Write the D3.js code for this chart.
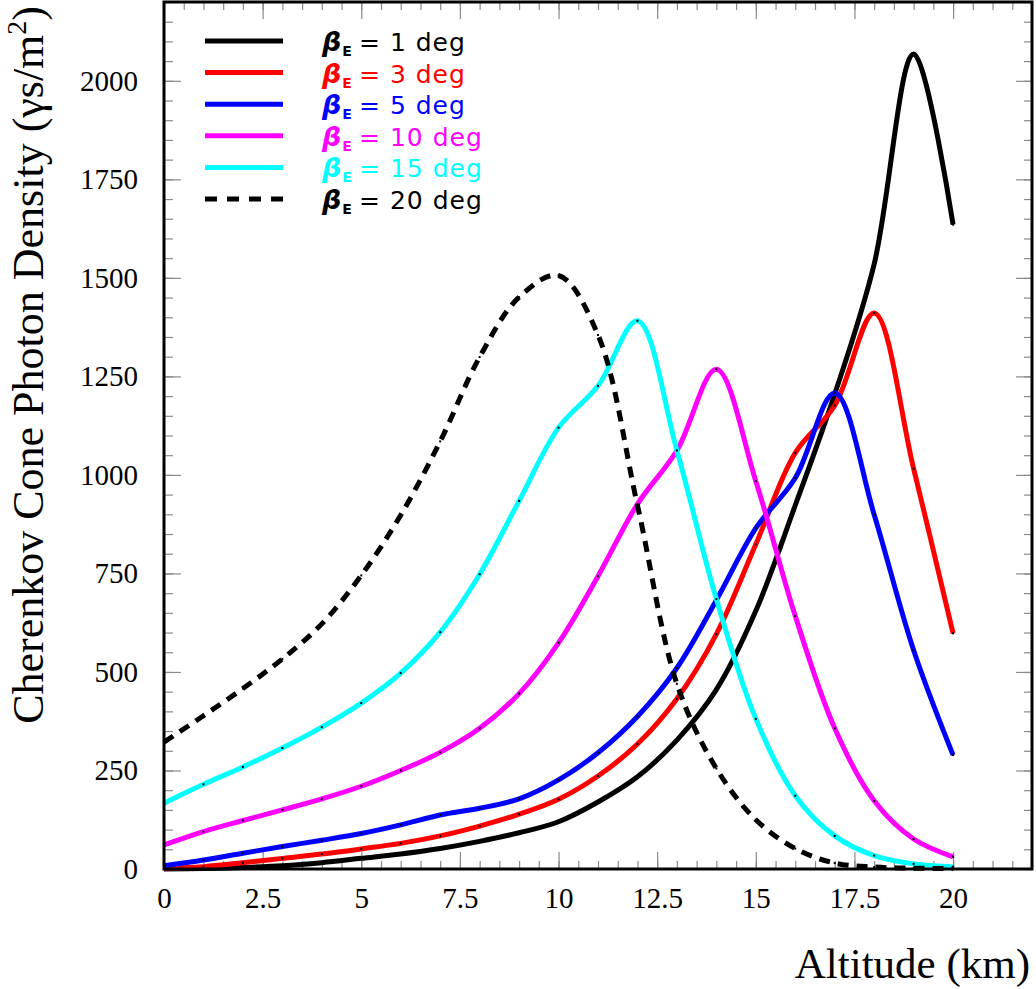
<!DOCTYPE html>
<html>
<head>
<meta charset="utf-8">
<script src="https://cdn.jsdelivr.net/npm/d3@7"></script>
<style>
    body { margin: 0; background: #fff; }
    .tick text { font-family: "Liberation Serif", "Times New Roman", serif; font-size: 29px; fill: #000; }
    .tick line { stroke: #8a8a8a; stroke-width: 1.2; }
    .axisTitle { font-family: "Liberation Serif", "Times New Roman", serif; fill: #000; }
    .legendText { font-family: "DejaVu Sans", sans-serif; font-size: 25px; letter-spacing: 1px; }
</style>
</head>
<body>
<svg id="chart" width="1036" height="989"></svg>
<script>
// altitude in km, one point per km
const altitude = [0, 1, 2, 3, 4, 5, 6, 7, 8, 9, 10, 11, 12, 13, 14, 15, 16, 17, 18, 19, 20];

// photon density for each beta_E
const beta1  = [0, 1, 4, 8, 16, 27, 38, 52, 70, 92, 120, 170, 234, 327, 455, 655, 923, 1205, 1535, 2068, 1635];
const beta3  = [2, 6, 16, 27, 38, 51, 65, 84, 109, 139, 177, 236, 317, 432, 596, 824, 1056, 1176, 1411, 1016, 598];
const beta5  = [8, 23, 40, 57, 73, 90, 112, 137, 154, 178, 226, 295, 387, 510, 682, 865, 992, 1208, 899, 555, 289];
const beta10 = [61, 95, 123, 150, 178, 210, 250, 296, 357, 445, 574, 743, 926, 1062, 1268, 984, 642, 357, 173, 76, 31];
const beta15 = [167, 215, 259, 307, 360, 421, 497, 601, 748, 934, 1120, 1226, 1391, 1062, 685, 381, 186, 84, 34, 13, 6];
const beta20 = [322, 389, 458, 533, 622, 745, 898, 1085, 1299, 1451, 1506, 1355, 923, 470, 255, 125, 52, 15, 5, 2, 1];

const legendLabels = ['1 deg', '3 deg', '5 deg', '10 deg', '15 deg', '20 deg'];
const xTickLabels = [0, 2.5, 5, 7.5, 10, 12.5, 15, 17.5, 20];
const yTickLabels = [0, 250, 500, 750, 1000, 1250, 1500, 1750, 2000];

const svg = d3.select('#chart');

const render = () => {
    const margin = {top: 2, right: 4, bottom: 120, left: 164};
    const width = +svg.attr('width');
    const height = +svg.attr('height');
    const innerWidth = width - margin.left - margin.right;
    const innerHeight = height - margin.top - margin.bottom;

    const xScale = d3.scaleLinear().domain([0, 22]).range([0, innerWidth]);
    const yScale = d3.scaleLinear().domain([0, 2200]).range([innerHeight, 0]);

    const series = [
        {values: beta1,  color: '#000000', dash: null},
        {values: beta3,  color: '#ff0000', dash: null},
        {values: beta5,  color: '#0000ff', dash: null},
        {values: beta10, color: '#ff00ff', dash: null},
        {values: beta15, color: '#00ffff', dash: null},
        {values: beta20, color: '#000000', dash: '11,8'}
    ];

    const g = svg.append('g')
        .attr('transform', `translate(${margin.left}, ${margin.top})`);

    const xMinor = d3.range(0, 22.01, 0.5);
    const yMinor = d3.range(0, 2200.01, 50);

    // ticks on all four sides, pointing inward
    const addAxis = (axis, transform) => {
        const a = g.append('g').attr('transform', transform).call(axis);
        a.select('.domain').remove();
        return a;
    };

    addAxis(d3.axisBottom(xScale).tickValues(xMinor).tickFormat('').tickSize(-8), `translate(0, ${innerHeight})`);
    addAxis(d3.axisBottom(xScale).tickValues(xTickLabels).tickFormat(d => d).tickSize(-17).tickPadding(18), `translate(0, ${innerHeight})`);
    addAxis(d3.axisTop(xScale).tickValues(xMinor).tickFormat('').tickSize(-8), 'translate(0, 0)');
    addAxis(d3.axisTop(xScale).tickValues(xTickLabels).tickFormat('').tickSize(-17), 'translate(0, 0)');

    addAxis(d3.axisLeft(yScale).tickValues(yMinor).tickFormat('').tickSize(-9), 'translate(0, 0)');
    addAxis(d3.axisLeft(yScale).tickValues(yTickLabels).tickFormat(d3.format('d')).tickSize(-17).tickPadding(26), 'translate(0, 0)');
    addAxis(d3.axisRight(yScale).tickValues(yMinor).tickFormat('').tickSize(-8), `translate(${innerWidth}, 0)`);
    addAxis(d3.axisRight(yScale).tickValues(yTickLabels).tickFormat('').tickSize(-16), `translate(${innerWidth}, 0)`);

    // curves
    const lineGenerator = d3.line()
        .x((d, i) => xScale(altitude[i]))
        .y(d => yScale(d))
        .curve(d3.curveCatmullRom.alpha(0.5));

    series.forEach(s => {
        g.append('path')
            .attr('fill', 'none')
            .attr('stroke', s.color)
            .attr('stroke-width', 5)
            .attr('stroke-dasharray', s.dash)
            .attr('d', lineGenerator(s.values));

        g.selectAll(null)
            .data(s.values)
            .enter()
            .append('rect')
            .attr('x', (d, i) => xScale(altitude[i]) - 1)
            .attr('y', d => yScale(d) - 1)
            .attr('width', 2)
            .attr('height', 2)
            .attr('fill', '#000');
    });

    // frame
    g.append('rect')
        .attr('width', innerWidth)
        .attr('height', innerHeight)
        .attr('fill', 'none')
        .attr('stroke', '#000')
        .attr('stroke-width', 3);

    // legend
    const legendY = d3.scaleLinear().domain([0, 5]).range([39, 197]);
    series.forEach((s, i) => {
        const y = legendY(i);
        g.append('line')
            .attr('x1', 41).attr('x2', 119)
            .attr('y1', y).attr('y2', y)
            .attr('stroke', s.color)
            .attr('stroke-width', 5)
            .attr('stroke-dasharray', s.dash ? '12,10' : null);

        const t = g.append('text')
            .attr('class', 'legendText')
            .attr('x', 158)
            .attr('y', y + 10)
            .attr('fill', s.color);
        t.append('tspan').attr('font-style', 'italic').attr('font-weight', 'bold').attr('font-size', 27).text('β');
        t.append('tspan').attr('font-size', 14).attr('font-weight', 'bold').attr('dy', 5).text('E');
        t.append('tspan').attr('dy', -5).attr('x', 195).text('= ' + legendLabels[i]);
    });

    // axis titles
    g.append('text')
        .attr('class', 'axisTitle')
        .attr('x', innerWidth - 2)
        .attr('y', 978 - margin.top)
        .attr('text-anchor', 'end')
        .attr('font-size', 43)
        .text('Altitude (km)');

    const yTitle = svg.append('text')
        .attr('class', 'axisTitle')
        .attr('transform', 'translate(43, 6) rotate(-90)')
        .attr('text-anchor', 'end')
        .attr('font-size', 44);
    yTitle.append('tspan').text('Cherenkov Cone Photon Density (γs/m');
    yTitle.append('tspan').attr('font-size', 28).attr('dy', -17).text('2');
    yTitle.append('tspan').attr('dy', 17).text(')');
};

render();
</script>
</body>
</html>
